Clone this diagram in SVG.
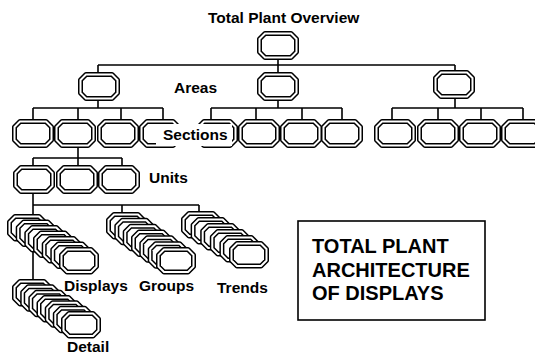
<svg xmlns="http://www.w3.org/2000/svg" xmlns:xlink="http://www.w3.org/1999/xlink" width="535" height="354" viewBox="0 0 535 354">
<style>
.o{fill:#fff;stroke:#000;stroke-width:5;stroke-linejoin:round}
.i{fill:none;stroke:#fff;stroke-width:2;stroke-linejoin:round}
.c{fill:none;stroke:#000;stroke-width:1.6}
.l{font-family:"Liberation Sans",Arial,sans-serif;font-weight:bold;font-size:15.5px;fill:#000}
.b{font-family:"Liberation Sans",Arial,sans-serif;font-weight:bold;font-size:20px;fill:#000}
</style>
<defs>
<g id="nd">
<path class="o" d="M7,1.5H33L38.5,7V20L33,25.5H7L1.5,20V7Z"/>
<path class="i" d="M7,1.5H33L38.5,7V20L33,25.5H7L1.5,20V7Z"/>
</g>
<g id="sn">
<path class="o" d="M7,1.5H31L36.5,7V18.5L31,24H7L1.5,18.5V7Z"/>
<path class="i" d="M7,1.5H31L36.5,7V18.5L31,24H7L1.5,18.5V7Z"/>
</g>
</defs>
<rect width="535" height="354" fill="#fff"/>
<g id="connectors" class="c">
<path d="M278,58V73M98,65H455M98,65V73M455,65V71"/>
<path d="M98,100V108M278,100V108M455,98V108"/>
<path d="M33,108H163M33,108V120M78,108V120M121,108V120M163,108V120"/>
<path d="M211,108H342M211,108V120M256,108V120M302,108V120M342,108V120"/>
<path d="M392,108H523M392,108V120M438,108V120M481,108V120M523,108V120"/>
<path d="M78,147V158M33,158H122M33,158V166M78,158V166M122,158V166"/>
<path d="M33,192V282M33,205H199M122,205V213M199,205V213"/>
</g>
<g id="top"><use xlink:href="#nd" x="258" y="32"/></g>
<g id="area1"><use xlink:href="#nd" x="79" y="73"/></g>
<g id="area2"><use xlink:href="#nd" x="258" y="73"/></g>
<g id="area3"><use xlink:href="#nd" x="434" y="71"/></g>
<g id="sec1"><use xlink:href="#nd" x="13" y="120"/></g>
<g id="sec2"><use xlink:href="#nd" x="55" y="120"/></g>
<g id="sec3"><use xlink:href="#nd" x="98" y="120"/></g>
<g id="sec4"><use xlink:href="#nd" x="140" y="120"/></g>
<g id="sec5"><use xlink:href="#nd" x="197" y="120"/></g>
<g id="sec6"><use xlink:href="#nd" x="239" y="120"/></g>
<g id="sec7"><use xlink:href="#nd" x="281" y="120"/></g>
<g id="sec8"><use xlink:href="#nd" x="322" y="120"/></g>
<g id="sec9"><use xlink:href="#nd" x="375" y="120"/></g>
<g id="sec10"><use xlink:href="#nd" x="418" y="120"/></g>
<g id="sec11"><use xlink:href="#nd" x="460" y="120"/></g>
<g id="sec12"><use xlink:href="#nd" x="502" y="120"/></g>
<g id="unit1"><use xlink:href="#nd" x="14" y="166"/></g>
<g id="unit2"><use xlink:href="#nd" x="57" y="166"/></g>
<g id="unit3"><use xlink:href="#nd" x="99" y="166"/></g>
<g id="displays">
<use xlink:href="#sn" x="8" y="215"/><use xlink:href="#sn" x="16.7" y="220.5"/><use xlink:href="#sn" x="25.3" y="226"/><use xlink:href="#sn" x="34" y="231.5"/><use xlink:href="#sn" x="42.7" y="237"/><use xlink:href="#sn" x="51.3" y="242.5"/><use xlink:href="#sn" x="60" y="248"/>
</g>
<g id="groups">
<use xlink:href="#sn" x="107" y="213"/><use xlink:href="#sn" x="115.3" y="218.8"/><use xlink:href="#sn" x="123.7" y="224.7"/><use xlink:href="#sn" x="132" y="230.5"/><use xlink:href="#sn" x="140.3" y="236.3"/><use xlink:href="#sn" x="148.7" y="242.2"/><use xlink:href="#sn" x="157" y="248"/>
</g>
<g id="trends">
<use xlink:href="#sn" x="182" y="212"/><use xlink:href="#sn" x="191.6" y="218"/><use xlink:href="#sn" x="201.2" y="224"/><use xlink:href="#sn" x="210.8" y="230"/><use xlink:href="#sn" x="220.4" y="236"/><use xlink:href="#sn" x="230" y="242"/>
</g>
<g id="detail">
<use xlink:href="#sn" x="13" y="280"/><use xlink:href="#sn" x="21.2" y="285.3"/><use xlink:href="#sn" x="29.3" y="290.7"/><use xlink:href="#sn" x="37.5" y="296"/><use xlink:href="#sn" x="45.7" y="301.3"/><use xlink:href="#sn" x="53.8" y="306.7"/><use xlink:href="#sn" x="62" y="312"/>
</g>
<g id="labels">
<text class="l" x="208" y="23">Total Plant Overview</text>
<text class="l" x="174" y="93">Areas</text>
<rect x="156" y="124" width="76" height="22" fill="#fff"/>
<text class="l" x="163" y="140">Sections</text>
<text class="l" x="149" y="183">Units</text>
<text class="l" x="64" y="291">Displays</text>
<text class="l" x="139" y="291">Groups</text>
<text class="l" x="217" y="293">Trends</text>
<text class="l" x="67" y="352">Detail</text>
</g>
<g id="titlebox">
<rect x="298" y="221" width="187" height="99" fill="#fff" stroke="#000" stroke-width="1.6"/>
<text class="b" x="312" y="253">TOTAL PLANT</text>
<text class="b" x="312" y="277">ARCHITECTURE</text>
<text class="b" x="312" y="300">OF DISPLAYS</text>
</g>
</svg>
